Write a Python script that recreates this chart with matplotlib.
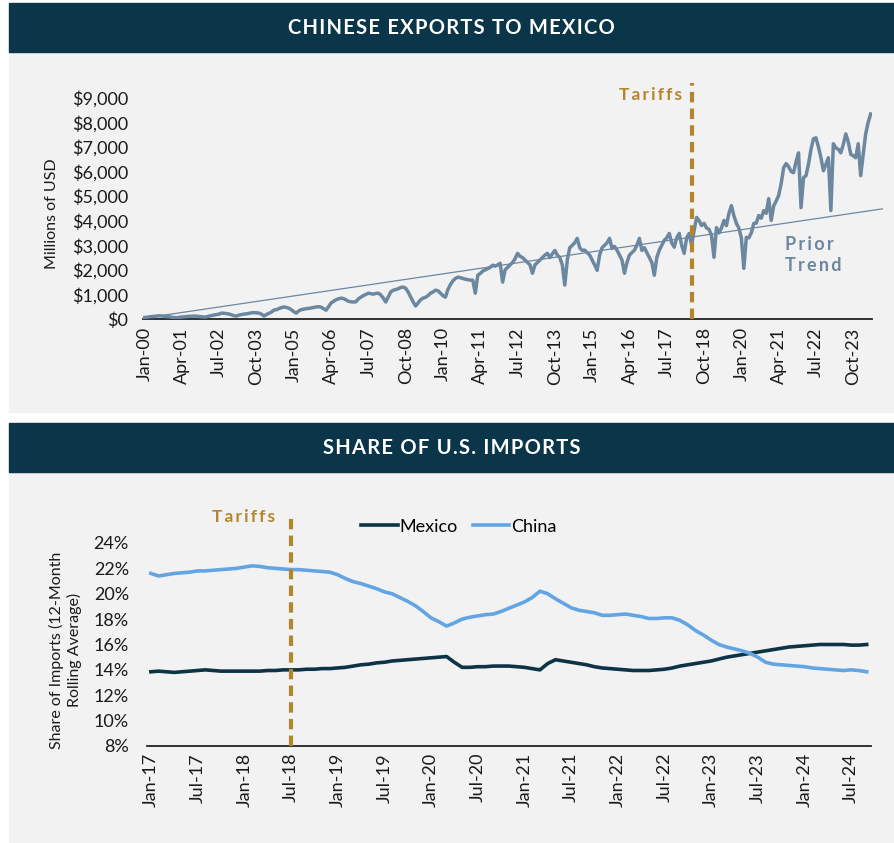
import matplotlib
matplotlib.use("Agg")
import matplotlib.pyplot as plt
from matplotlib.patches import Rectangle
import numpy as np

plt.rcParams['font.family'] = ['Lato', 'DejaVu Sans']

# ---- top panel: Chinese exports to Mexico, monthly, Jan-2000 .. May-2024 (millions USD)
exports = [
    60, 70, 90, 100, 110, 120, 130, 120, 110, 100, 90, 70,              # 2000
    60, 50, 70, 80, 90, 100, 110, 110, 120, 110, 100, 90,               # 2001
    80, 90, 120, 140, 160, 180, 200, 240, 230, 220, 200, 170,           # 2002
    130, 120, 160, 180, 200, 210, 230, 250, 260, 250, 240, 200,         # 2003
    120, 180, 230, 280, 360, 380, 420, 460, 490, 470, 440, 380,         # 2004
    300, 240, 330, 380, 400, 420, 430, 450, 470, 490, 500, 480,         # 2005
    420, 360, 500, 650, 720, 780, 820, 850, 830, 780, 720, 700,         # 2006
    690, 700, 820, 890, 950, 1000, 1050, 1030, 1010, 1040, 1050, 980,   # 2007
    850, 690, 900, 1100, 1170, 1200, 1230, 1280, 1300, 1250, 1100, 900, # 2008
    700, 530, 650, 780, 850, 880, 950, 1050, 1100, 1170, 1150, 1050,    # 2009
    950, 890, 1200, 1400, 1550, 1650, 1700, 1680, 1650, 1620, 1600, 1580,  # 2010
    1580, 1050, 1780, 1850, 1950, 2000, 2050, 2100, 2190, 2150, 2200, 2270,  # 2011
    1500, 2000, 2100, 2200, 2300, 2450, 2670, 2550, 2500, 2400, 2300, 2200,  # 2012
    1860, 2200, 2300, 2400, 2500, 2600, 2670, 2500, 2650, 2790, 2600, 2500,  # 2013
    2200, 1380, 2400, 2900, 3000, 3100, 3280, 2900, 2790, 2800, 2700, 2600,  # 2014
    2400, 2200, 1980, 2600, 2900, 3000, 3100, 3280, 2870, 2950, 2800, 2600,  # 2015
    2400, 1860, 2300, 2600, 2700, 2800, 3000, 3280, 2790, 2900, 2700, 2500,  # 2016
    2300, 1780, 2500, 2800, 3000, 3200, 3300, 3480, 3100, 2920, 3300, 3480,  # 2017
    3000, 2670, 3300, 3480, 3000, 3600, 4130, 4000, 3800, 3890, 3700, 3650,  # 2018
    3400, 2510, 3720, 3500, 3700, 4010, 3800, 4300, 4610, 4200, 3890, 3700,  # 2019
    3300, 2060, 3320, 3300, 3500, 3890, 3900, 4210, 4100, 4410, 4300, 4900,  # 2020
    4010, 4600, 4800, 5020, 5500, 6150, 6320, 6200, 6000, 5950, 6400, 6760,  # 2021
    4530, 5750, 5830, 6300, 6900, 7330, 7370, 7000, 6560, 6030, 6300, 6560,  # 2022
    4410, 7130, 6960, 6900, 6760, 7100, 7530, 7200, 6700, 6640, 6560, 7130,  # 2023
    5830, 6700, 7530, 8000, 8340,                                             # 2024
]
top_ticks = ['Jan-00', 'Apr-01', 'Jul-02', 'Oct-03', 'Jan-05', 'Apr-06', 'Jul-07',
             'Oct-08', 'Jan-10', 'Apr-11', 'Jul-12', 'Oct-13', 'Jan-15', 'Apr-16',
             'Jul-17', 'Oct-18', 'Jan-20', 'Apr-21', 'Jul-22', 'Oct-23']
trend_x = [0, 296.7]
trend_y = [40, 4480]
tariff_top = 220.3

# ---- bottom panel: share of U.S. imports, 12m avg, Jan-2017 .. Sep-2024 (%)
china = [
    21.6, 21.4, 21.5, 21.6, 21.65, 21.7, 21.8, 21.8, 21.85, 21.9, 21.95, 22.0,
    22.1, 22.2, 22.15, 22.05, 22.0, 21.95, 21.9, 21.9, 21.85, 21.8, 21.75, 21.7,
    21.5, 21.2, 20.95, 20.8, 20.6, 20.4, 20.15, 20.0, 19.7, 19.4, 19.05, 18.6,
    18.1, 17.8, 17.45, 17.7, 18.0, 18.15, 18.25, 18.35, 18.4, 18.6, 18.85, 19.1,
    19.35, 19.7, 20.2, 20.0, 19.6, 19.25, 18.9, 18.7, 18.6, 18.5, 18.3, 18.3,
    18.35, 18.4, 18.3, 18.2, 18.05, 18.05, 18.1, 18.1, 17.9, 17.55, 17.1, 16.75,
    16.35, 16.0, 15.8, 15.65, 15.5, 15.3, 15.0, 14.6, 14.45, 14.4, 14.35, 14.3,
    14.25, 14.15, 14.1, 14.05, 14.0, 13.95, 14.0, 13.95, 13.85,
]
mexico = [
    13.85, 13.9, 13.85, 13.8, 13.85, 13.9, 13.95, 14.0, 13.95, 13.9, 13.9, 13.9,
    13.9, 13.9, 13.9, 13.95, 13.95, 14.0, 14.0, 14.0, 14.05, 14.05, 14.1, 14.1,
    14.15, 14.2, 14.3, 14.4, 14.45, 14.55, 14.6, 14.7, 14.75, 14.8, 14.85, 14.9,
    14.95, 15.0, 15.05, 14.6, 14.2, 14.2, 14.25, 14.25, 14.3, 14.3, 14.3, 14.25,
    14.2, 14.1, 14.0, 14.5, 14.8, 14.7, 14.6, 14.5, 14.4, 14.25, 14.15, 14.1,
    14.05, 14.0, 13.95, 13.95, 13.95, 14.0, 14.05, 14.15, 14.3, 14.4, 14.5, 14.6,
    14.7, 14.85, 15.0, 15.1, 15.2, 15.3, 15.4, 15.5, 15.6, 15.7, 15.8, 15.85,
    15.9, 15.95, 16.0, 16.0, 16.0, 16.0, 15.95, 15.95, 16.0,
]
bottom_ticks = ['Jan-17', 'Jul-17', 'Jan-18', 'Jul-18', 'Jan-19', 'Jul-19', 'Jan-20',
                'Jul-20', 'Jan-21', 'Jul-21', 'Jan-22', 'Jul-22', 'Jan-23', 'Jul-23',
                'Jan-24', 'Jul-24']
tariff_bottom = 18

HEAD = '#0b3549'
PANEL = '#f2f2f2'
GOLD = '#b5852e'
STEEL = '#6c87a0'
MEX = '#0d3446'
CHN = '#63a5e3'
TXT = '#1a1a1a'

W, H = 894, 843
fig = plt.figure(figsize=(W / 100, H / 100), dpi=100, facecolor='white')


def px_rect(x0, y0, x1, y1, color):
    # rectangle in pixel coords (y from the top)
    fig.patches.append(Rectangle((x0 / W, 1 - y1 / H), (x1 - x0) / W, (y1 - y0) / H,
                                 transform=fig.transFigure, color=color, zorder=-10))


def spaced(s, sep='\u200a'):
    return sep.join(s)


px_rect(9, 52, W, 412, PANEL)
px_rect(9, 472, W, H, PANEL)
px_rect(9, 3, W, 52, HEAD)
px_rect(9, 423, W, 472, HEAD)
fig.text((9 + W) / 2 / W, 1 - 27.5 / H, spaced('CHINESE EXPORTS TO MEXICO'), color='white',
         fontsize=14.5, fontweight='bold', ha='center', va='center')
fig.text((9 + W) / 2 / W, 1 - 447.5 / H, spaced('SHARE OF U.S. IMPORTS'), color='white',
         fontsize=14.5, fontweight='bold', ha='center', va='center')

# ---------------- top chart
ax1 = fig.add_axes([143.3 / W, 1 - 319 / H, (871.9 - 143.3) / W, (319 - 83) / H])
ax1.set_facecolor('none')
x = np.arange(len(exports))
ax1.plot(trend_x, trend_y, color=STEEL, lw=0.9, clip_on=False, zorder=2)
ax1.plot(x, exports, color=STEEL, lw=2.5, zorder=3, solid_joinstyle='round')
ax1.axvline(tariff_top, color=GOLD, lw=3, linestyle=(0, (2.5, 1.5)), zorder=4)
ax1.text(tariff_top - 4, 9100, spaced('Tariffs', '\u2009'), color=GOLD, fontsize=12.5,
         fontweight='bold', ha='right', va='center')
ax1.text(257.6, 3050, spaced('Prior', '\u2009'), color=STEEL, fontsize=13,
         fontweight='bold', ha='left', va='center')
ax1.text(257.6, 2160, spaced('Trend', '\u2009'), color=STEEL, fontsize=13,
         fontweight='bold', ha='left', va='center')
ax1.set_xlim(-0.5, len(exports) - 0.5)
ax1.set_ylim(0, 9600)
ax1.set_yticks(range(0, 9001, 1000))
ax1.set_yticklabels(['${:,}'.format(v) for v in range(0, 9001, 1000)])
ax1.set_xticks(range(0, len(exports), 15))
ax1.set_xticklabels(top_ticks, rotation=90)
ax1.set_ylabel('Millions of USD', fontsize=11.5, color=TXT)
ax1.yaxis.set_label_coords(-0.116, 0.445)
for s in ['top', 'right', 'left']:
    ax1.spines[s].set_visible(False)
ax1.spines['bottom'].set_color('#222222')
ax1.spines['bottom'].set_linewidth(1.3)
ax1.tick_params(axis='y', length=0, labelsize=13, colors=TXT, pad=11)
ax1.tick_params(axis='x', length=0, labelsize=13, colors=TXT, pad=6)

# ---------------- bottom chart
ax2 = fig.add_axes([147 / W, 1 - 746 / H, (870.6 - 147) / W, (746 - 517.6) / H])
ax2.set_facecolor('none')
xb = np.arange(len(china))
ax2.plot(xb, mexico, color=MEX, lw=2.6, label='Mexico', zorder=3)
ax2.plot(xb, china, color=CHN, lw=2.6, label='China', zorder=3)
ax2.axvline(tariff_bottom, color=GOLD, lw=3, linestyle=(0, (2.5, 1.5)), zorder=4)
ax2.text(tariff_bottom - 2.0, 26.05, spaced('Tariffs', '\u2009'), color=GOLD, fontsize=12.5,
         fontweight='bold', ha='right', va='center')
ax2.set_xlim(-0.5, len(china) - 0.5)
ax2.set_ylim(8, 26)
ax2.set_yticks(range(8, 25, 2))
ax2.set_yticklabels(['{}%'.format(v) for v in range(8, 25, 2)])
ax2.set_xticks(range(0, len(china), 6))
ax2.set_xticklabels(bottom_ticks, rotation=90)
ax2.set_ylabel('Share of Imports (12-Month\nRolling Average)', fontsize=11.5, color=TXT,
               linespacing=1.25)
ax2.yaxis.set_label_coords(-0.09, 0.42)
for s in ['top', 'right', 'left']:
    ax2.spines[s].set_visible(False)
ax2.spines['bottom'].set_color('#222222')
ax2.spines['bottom'].set_linewidth(1.3)
ax2.tick_params(axis='y', length=0, labelsize=13, colors=TXT, pad=13)
ax2.tick_params(axis='x', length=0, labelsize=13, colors=TXT, pad=5)
ax2.legend(loc='center', bbox_to_anchor=(0.431, 0.96), ncol=2, frameon=False,
           fontsize=13, handlelength=2.0, handletextpad=0.1, columnspacing=0.85)

fig.savefig('out.png', dpi=100, facecolor=fig.get_facecolor())
